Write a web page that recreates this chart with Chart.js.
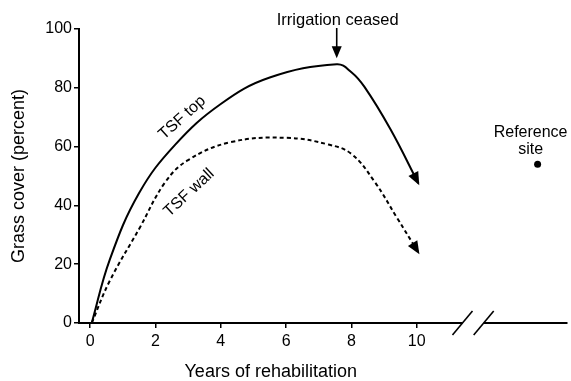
<!DOCTYPE html>
<html>
<head>
<meta charset="utf-8">
<script src="https://cdn.jsdelivr.net/npm/chart.js@4.4.0/dist/chart.umd.min.js"></script>
<style>
  html, body { margin: 0; padding: 0; background: #fff; }
</style>
</head>
<body>
<canvas id="grassChart" width="571" height="381"></canvas>
<script>
// Grass cover on the tailings storage facility (TSF)
const topYears  = [0.05, 0.6, 1.5, 2.6, 4.0, 5.5, 7.55, 8.0, 8.4, 9.2, 10.05];
const topCover  = [0, 21.5, 44.2, 60.6, 74.5, 83.5, 88, 85.3, 80.3, 65.8, 47.5];
const wallYears = [0.05, 0.6, 1.5, 2.3, 3.0, 4.3, 6.0, 7.3, 8.0, 8.7, 9.4, 10.05];
const wallCover = [0, 14.3, 32, 47.9, 55.4, 61.5, 63, 60.7, 57.5, 48.2, 35.7, 24];
const referenceYears = [13.7];
const referenceCover = [54];

const xTicks = [0, 2, 4, 6, 8, 10];
const yTicks = [0, 20, 40, 60, 80, 100];

const irrigationCeasedYear = 7.55;
const axisBreakYears = [11.4, 12.05];

const FONT = "'Liberation Sans', Arial, sans-serif";

function toPoints(xs, ys) {
    return xs.map((x, i) => ({ x: x, y: ys[i] }));
}

// filled triangle with its tip at (x, y) pointing along angle
function arrowHead(ctx, x, y, angle, len, half) {
    ctx.save();
    ctx.translate(x, y);
    ctx.rotate(angle);
    ctx.beginPath();
    ctx.moveTo(0, 0);
    ctx.lineTo(-len, -half);
    ctx.lineTo(-len, half);
    ctx.closePath();
    ctx.fillStyle = '#000';
    ctx.fill();
    ctx.restore();
}

const arrowPlugin = {
    id: 'lineArrows',
    afterDatasetsDraw(chart) {
        const ctx = chart.ctx;
        chart.data.datasets.forEach((ds, i) => {
            if (!ds.arrowEnd) return;
            const pts = chart.getDatasetMeta(i).data;
            const p = pts[pts.length - 1];
            const q = pts[pts.length - 2];
            let dx = p.x - (p.cp1x ?? q.x);
            let dy = p.y - (p.cp1y ?? q.y);
            if (dx === 0 && dy === 0) {
                dx = p.x - q.x;
                dy = p.y - q.y;
            }
            const a = Math.atan2(dy, dx);
            arrowHead(ctx, p.x + Math.cos(a) * 2, p.y + Math.sin(a) * 2, a, 13, 5.5);
        });
    }
};

const notesPlugin = {
    id: 'notes',
    afterDraw(chart) {
        const ctx = chart.ctx;
        const xs = chart.scales.x;
        const ys = chart.scales.y;
        const area = chart.chartArea;

        ctx.save();
        ctx.fillStyle = '#000';
        ctx.strokeStyle = '#000';

        // axis break on the x axis
        const b1 = xs.getPixelForValue(axisBreakYears[0]);
        const b2 = xs.getPixelForValue(axisBreakYears[1]);
        ctx.fillStyle = '#fff';
        ctx.fillRect(b1, area.bottom - 3, b2 - b1, 6);
        ctx.fillStyle = '#000';
        ctx.lineWidth = 1.6;
        [b1, b2].forEach(bx => {
            ctx.beginPath();
            ctx.moveTo(bx - 10, area.bottom + 12);
            ctx.lineTo(bx + 10, area.bottom - 12);
            ctx.stroke();
        });

        // x axis title, centred on the left part of the axis
        ctx.font = '18px ' + FONT;
        ctx.textAlign = 'center';
        ctx.textBaseline = 'alphabetic';
        ctx.fillText('Years of rehabilitation', (area.left + b1) / 2, 377);

        // irrigation ceased marker
        const ix = xs.getPixelForValue(irrigationCeasedYear);
        const peakY = ys.getPixelForValue(88);
        ctx.font = '16.5px ' + FONT;
        ctx.fillText('Irrigation ceased', ix + 1, 25);
        ctx.lineWidth = 1.6;
        ctx.beginPath();
        ctx.moveTo(ix, 28);
        ctx.lineTo(ix, peakY - 14);
        ctx.stroke();
        arrowHead(ctx, ix, peakY - 6, Math.PI / 2, 12, 5);

        // curve labels
        const curveLabels = [
            { text: 'TSF top', x: 2.82, y: 69.8, angle: -42 },
            { text: 'TSF wall', x: 3.03, y: 44.3, angle: -43 }
        ];
        ctx.font = '16px ' + FONT;
        ctx.textBaseline = 'middle';
        curveLabels.forEach(l => {
            ctx.save();
            ctx.translate(xs.getPixelForValue(l.x), ys.getPixelForValue(l.y));
            ctx.rotate(l.angle * Math.PI / 180);
            ctx.fillText(l.text, 0, 0);
            ctx.restore();
        });

        // reference site label above its point
        const rx = xs.getPixelForValue(referenceYears[0]);
        const ry = ys.getPixelForValue(referenceCover[0]);
        ctx.textBaseline = 'alphabetic';
        ctx.fillText('Reference', rx - 7, ry - 27);
        ctx.fillText('site', rx - 7, ry - 10);

        ctx.restore();
    }
};

const tickStyle = {
    color: '#000',
    font: { family: FONT, size: 16 },
    autoSkip: false,
    maxRotation: 0
};

new Chart(document.getElementById('grassChart'), {
    type: 'line',
    data: {
        datasets: [
            {
                label: 'TSF top',
                data: toPoints(topYears, topCover),
                borderColor: '#000',
                borderWidth: 2,
                pointRadius: 0,
                tension: 0.4,
                fill: false,
                arrowEnd: true
            },
            {
                label: 'TSF wall',
                data: toPoints(wallYears, wallCover),
                borderColor: '#000',
                borderWidth: 2,
                borderDash: [4, 3],
                pointRadius: 0,
                tension: 0.4,
                fill: false,
                arrowEnd: true
            },
            {
                type: 'scatter',
                label: 'Reference site',
                data: toPoints(referenceYears, referenceCover),
                backgroundColor: '#000',
                borderWidth: 0,
                pointRadius: 3.5
            }
        ]
    },
    options: {
        responsive: false,
        devicePixelRatio: 1,
        animation: false,
        layout: { padding: { top: 29, right: 4, left: 0, bottom: 0 } },
        plugins: {
            legend: { display: false },
            tooltip: { enabled: false }
        },
        scales: {
            x: {
                type: 'linear',
                min: -0.34,
                max: 14.6,
                afterBuildTicks: s => { s.ticks = xTicks.map(v => ({ value: v })); },
                afterFit: s => { s.height = 58; },
                grid: { drawOnChartArea: false, tickLength: 5, color: '#000', lineWidth: 1.5 },
                border: { color: '#000', width: 2 },
                ticks: Object.assign({ padding: 4 }, tickStyle)
            },
            y: {
                min: 0,
                max: 100,
                afterBuildTicks: s => { s.ticks = yTicks.map(v => ({ value: v })); },
                afterFit: s => { s.width = 79; },
                grid: { drawOnChartArea: false, tickLength: 5, color: '#000', lineWidth: 1.5 },
                border: { color: '#000', width: 2 },
                ticks: Object.assign({ padding: 2 }, tickStyle),
                title: {
                    display: true,
                    text: 'Grass cover (percent)',
                    color: '#000',
                    font: { family: FONT, size: 18 },
                    padding: { top: 8, bottom: 0 }
                }
            }
        }
    },
    plugins: [arrowPlugin, notesPlugin]
});
</script>
</body>
</html>
